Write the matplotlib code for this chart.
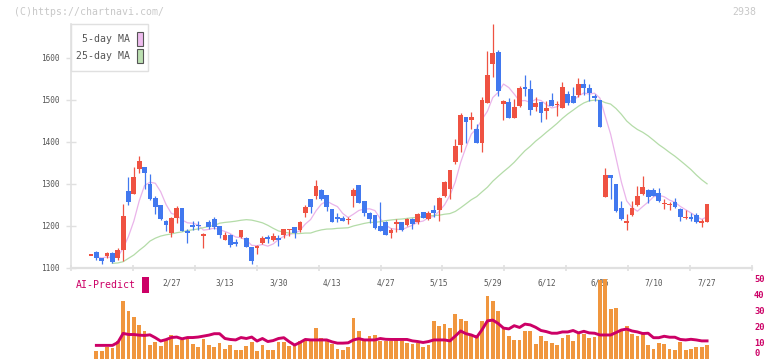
import numpy as np
import pandas as pd
import matplotlib
matplotlib.use("Agg")
import matplotlib.pyplot as plt
import matplotlib.transforms as mtransforms
from matplotlib.patches import Rectangle

# daily candles
opens = [1130, 1137, 1124, 1129, 1136, 1124, 1144, 1283, 1277, 1335,
         1340, 1301, 1267, 1250, 1213, 1184, 1220, 1244, 1188, 1202,
         1202, 1177, 1210, 1217, 1199, 1167, 1179, 1160, 1173, 1172,
         1150, 1149, 1160, 1174, 1167, 1170, 1179, 1191, 1197, 1190,
         1232, 1264, 1272, 1286, 1274, 1240, 1222, 1218, 1215, 1271,
         1298, 1260, 1232, 1226, 1200, 1210, 1183, 1207, 1209, 1202,
         1217, 1209, 1233, 1216, 1238, 1238, 1272, 1288, 1352, 1393,
         1459, 1452, 1431, 1398, 1494, 1585, 1614, 1490, 1495, 1458,
         1486, 1529, 1526, 1483, 1495, 1473, 1500, 1489, 1482, 1514,
         1510, 1513, 1538, 1528, 1510, 1500, 1270, 1321, 1300, 1242,
         1209, 1226, 1250, 1275, 1286, 1286, 1278, 1253, 1251, 1258,
         1240, 1220, 1222, 1226, 1209, 1210]
highs = [1131, 1141, 1124, 1138, 1137, 1148, 1252, 1317, 1341, 1367,
         1340, 1323, 1271, 1250, 1214, 1222, 1248, 1244, 1194, 1212,
         1211, 1184, 1214, 1222, 1200, 1186, 1180, 1170, 1190, 1174,
         1151, 1155, 1176, 1178, 1183, 1179, 1194, 1193, 1198, 1212,
         1250, 1265, 1310, 1288, 1275, 1241, 1230, 1224, 1221, 1291,
         1298, 1260, 1233, 1227, 1258, 1211, 1195, 1216, 1210, 1218,
         1218, 1232, 1234, 1236, 1250, 1270, 1307, 1334, 1408, 1468,
         1460, 1471, 1442, 1506, 1617, 1681, 1619, 1500, 1504, 1502,
         1533, 1560, 1548, 1506, 1496, 1498, 1517, 1498, 1543, 1521,
         1531, 1552, 1550, 1538, 1514, 1500, 1337, 1322, 1300, 1260,
         1229, 1260, 1295, 1319, 1287, 1291, 1291, 1264, 1258, 1266,
         1244, 1238, 1232, 1230, 1216, 1252]
lows = [1130, 1119, 1110, 1123, 1113, 1119, 1117, 1250, 1277, 1327,
        1287, 1262, 1229, 1215, 1189, 1175, 1207, 1188, 1160, 1190,
        1190, 1148, 1194, 1194, 1172, 1166, 1150, 1152, 1171, 1149,
        1109, 1133, 1157, 1159, 1165, 1153, 1172, 1176, 1172, 1186,
        1222, 1232, 1264, 1262, 1236, 1209, 1209, 1212, 1205, 1246,
        1254, 1225, 1206, 1193, 1188, 1178, 1171, 1186, 1189, 1199,
        1193, 1205, 1219, 1215, 1222, 1212, 1270, 1264, 1348, 1377,
        1398, 1432, 1398, 1377, 1494, 1555, 1510, 1452, 1458, 1458,
        1484, 1510, 1464, 1475, 1448, 1455, 1485, 1463, 1481, 1489,
        1493, 1506, 1512, 1498, 1498, 1436, 1270, 1264, 1234, 1214,
        1190, 1224, 1248, 1274, 1254, 1271, 1256, 1240, 1238, 1242,
        1212, 1217, 1213, 1208, 1198, 1210]
closes = [1131, 1123, 1117, 1135, 1115, 1144, 1225, 1258, 1317, 1355,
          1327, 1264, 1246, 1217, 1203, 1220, 1244, 1188, 1183, 1198,
          1200, 1181, 1198, 1198, 1179, 1179, 1155, 1158, 1190, 1150,
          1117, 1151, 1172, 1170, 1176, 1169, 1192, 1192, 1184, 1209,
          1246, 1246, 1295, 1264, 1246, 1210, 1216, 1213, 1216, 1286,
          1254, 1232, 1217, 1195, 1189, 1179, 1190, 1208, 1190, 1216,
          1205, 1228, 1220, 1230, 1232, 1266, 1304, 1333, 1390, 1464,
          1448, 1460, 1398, 1500, 1560, 1611, 1521, 1498, 1458, 1483,
          1528, 1527, 1475, 1494, 1470, 1480, 1486, 1490, 1530, 1494,
          1494, 1538, 1528, 1516, 1505, 1436, 1321, 1315, 1236, 1217,
          1210, 1242, 1271, 1292, 1270, 1272, 1260, 1254, 1252, 1245,
          1222, 1221, 1216, 1210, 1210, 1252]

# 25-day MA before a full window exists in this range
ma25_head = [1111, 1112, 1115, 1123, 1131, 1142, 1152, 1164, 1171, 1176,
             1179, 1181, 1184, 1186, 1189, 1191, 1193, 1196, 1199, 1201]

# volume bars and AI-Predict line (from the 2nd candle on)
volume = [4.9, 4.9, 7.2, 6.6, 10.9, 36.1, 29.7, 25.9, 20.9, 17.2,
          8.4, 10.3, 7.8, 11.6, 14.7, 8.4, 11.6, 13.4, 9.1, 7.2,
          12.2, 8.4, 7.2, 9.7, 5.9, 8.4, 5.3, 5.3, 7.8, 10.3,
          4.7, 8.4, 5.3, 5.3, 10.3, 10.3, 7.8, 8.4, 10.9, 11.6,
          11.6, 19.1, 12.8, 11.6, 9.1, 5.9, 5.3, 7.2, 25.3, 17.2,
          11.6, 14.1, 14.7, 10.9, 10.9, 10.9, 12.2, 10.9, 9.7, 9.1,
          9.7, 7.2, 8.4, 23.4, 20.3, 21.6, 19.1, 27.8, 24.7, 23.4,
          14.7, 14.7, 23.4, 39.1, 35.9, 29.7, 20.0, 14.1, 11.6, 11.6,
          17.2, 17.2, 9.1, 14.1, 10.9, 9.7, 8.4, 12.8, 14.7, 10.9,
          15.3, 15.3, 12.8, 13.4, 49.1, 49.7, 30.9, 31.6, 17.2, 20.3,
          15.3, 14.1, 16.6, 8.4, 5.9, 9.7, 9.1, 5.9, 5.3, 10.3,
          5.3, 5.9, 7.2, 7.2, 8.4]
ai_predict = [8.2, 8.2, 8.2, 8.2, 10.0, 15.7, 15.0, 15.0, 14.6, 14.4,
              14.8, 13.0, 10.9, 11.8, 13.1, 13.4, 12.3, 13.1, 13.1, 13.4,
              14.0, 14.6, 15.5, 15.5, 12.5, 11.9, 11.6, 13.1, 12.5, 13.4,
              10.9, 12.5, 10.6, 11.2, 12.5, 13.0, 10.5, 8.4, 10.0, 11.9,
              11.6, 11.6, 11.6, 11.6, 10.4, 9.6, 9.6, 9.8, 11.6, 12.4,
              11.6, 11.6, 11.6, 12.5, 12.0, 11.9, 11.9, 11.9, 11.9, 11.0,
              10.6, 10.0, 10.6, 11.6, 11.6, 11.6, 11.0, 14.0, 17.2, 15.5,
              14.7, 13.3, 18.0, 23.5, 24.0, 21.9, 19.0, 18.5, 20.5, 19.4,
              21.5, 21.0, 19.5, 17.5, 16.8, 15.8, 15.8, 16.6, 16.6, 17.5,
              16.0, 17.0, 16.0, 15.8, 14.7, 14.7, 14.7, 16.2, 17.8, 18.4,
              17.2, 16.6, 15.6, 15.8, 13.0, 13.0, 13.9, 13.3, 13.3, 11.9,
              11.6, 12.0, 11.6, 11.0, 11.0]

date_labels = ["2/27", "3/13", "3/30", "4/13", "4/27", "5/15",
               "5/29", "6/12", "6/26", "7/10", "7/27"]
date_pos = [15, 25, 35, 45, 55, 65, 75, 85, 95, 105, 115]

RED = "#ef5242"
BLUE = "#4178ef"
GRID = "#e0e0e0"
MAGENTA = "#cc0066"
plt.rcParams["font.family"] = ["DejaVu Sans Mono"]

W, H = 772, 361
fig = plt.figure(figsize=(W / 100, H / 100), dpi=100)

def px(x, y):
    return x / W, 1 - y / H

x = np.arange(len(closes))
o = np.array(opens, float)
hi = np.array(highs, float)
lo = np.array(lows, float)
c = np.array(closes, float)

ma5 = pd.Series(c).rolling(5, min_periods=1).mean().values
ma25 = pd.Series(c).rolling(25).mean().values
ma25[4:24] = ma25_head

# price panel
l0, r0 = px(71, 0)[0], px(752, 0)[0]
ax = fig.add_axes([l0, 1 - 268 / H, r0 - l0, (268 - 24) / H])
ax.set_xlim((71 - 91) / 5.357, (752 - 91) / 5.357)
ax.set_ylim(1100, 1100 + 244 / 0.42)

ax.plot(x[1:], ma5[1:], color="#eab4ea", lw=0.9, zorder=2)
ax.plot(x[4:], ma25[4:], color="#b4dca8", lw=0.9, zorder=2)

colors = np.where(c >= o, RED, BLUE)
diff = np.abs(c - o)
body_h = np.maximum(diff, 4)
body_lo = np.where(diff < 4, (o + c) / 2 - 2, np.minimum(o, c))
ax.vlines(x, lo, hi, colors=colors, lw=0.9, zorder=3, clip_on=False)
ax.bar(x, body_h, 0.9, bottom=body_lo, color=colors, lw=0, zorder=4)

for s in ["top", "right"]:
    ax.spines[s].set_visible(False)
ax.spines["left"].set_color(GRID)
ax.spines["left"].set_linewidth(1.2)
ax.spines["bottom"].set_color(GRID)
ax.spines["bottom"].set_linewidth(1.6)
ax.set_yticks([1100, 1200, 1300, 1400, 1500, 1600])
ax.tick_params(axis="y", direction="inout", length=6.5, width=1, color=GRID,
               labelsize=5.6, labelcolor="#555555", pad=5)
ax.set_xticks(np.linspace(*ax.get_xlim(), 12))
ax.set_xticklabels([])
ax.tick_params(axis="x", direction="inout", length=4, width=1.2, color=GRID)

trans = mtransforms.blended_transform_factory(ax.transData, ax.transAxes)
for p, lab in zip(date_pos, date_labels):
    ax.text(p, -15 / 244, lab, transform=trans, ha="center", va="center",
            fontsize=5.6, color="#555555")

# volume / AI-Predict panel
axv = fig.add_axes([l0, 1 - 358.5 / H, r0 - l0, (358.5 - 274) / H])
axv.set_xlim(ax.get_xlim())
axv.set_ylim(0, (358.5 - 274) / 1.6)
axv.bar(x[1:], volume, 0.7, color="#f0963e", lw=0, zorder=2)
axv.plot(x[1:], ai_predict, color=MAGENTA, lw=2.1, zorder=3)
for s in axv.spines.values():
    s.set_visible(False)
axv.set_xticks([])
axv.yaxis.tick_right()
axv.set_yticks([0, 10, 20, 30, 40, 50])
axv.tick_params(axis="y", length=0, pad=1.5, labelsize=6.3, labelcolor=MAGENTA)
for t in axv.get_yticklabels():
    t.set_fontweight("bold")
axv.get_yticklabels()[0].set_verticalalignment("bottom")
axv.patch.set_alpha(0)

# legend box
lx, ly = px(71, 71)
lw_, lh_ = 77 / W, 47 / H
fig.add_artist(Rectangle((lx, ly), lw_, lh_, transform=fig.transFigure,
                         facecolor="white", edgecolor=GRID, lw=1, zorder=10))
for yy, lab, col in [(39, "5-day MA", "#eebcee"), (56, "25-day MA", "#bce0b2")]:
    tx, ty = px(130, yy)
    fig.text(tx, ty, lab, ha="right", va="center", fontsize=7.1,
             color="#555555", zorder=11)
    rx, ry = px(136.7, yy + 7)
    fig.add_artist(Rectangle((rx, ry), 6 / W, 14 / H, transform=fig.transFigure,
                             facecolor=col, edgecolor="#555555", lw=0.8, zorder=11))

# AI-Predict label
tx, ty = px(76, 285)
fig.text(tx, ty, "AI-Predict", ha="left", va="center", fontsize=7.1, color=MAGENTA)
rx, ry = px(142, 293)
fig.add_artist(Rectangle((rx, ry), 6.5 / W, 16 / H, transform=fig.transFigure,
                         facecolor=MAGENTA, edgecolor="none"))

# watermark texts
tx, ty = px(14, 12)
fig.text(tx, ty, "(C)https://chartnavi.com/", ha="left", va="center",
         fontsize=7.1, color="#c8c8c8")
tx, ty = px(756, 12)
fig.text(tx, ty, "2938", ha="right", va="center", fontsize=7.1, color="#c8c8c8")

fig.savefig("out.png", dpi=100, facecolor="white")
